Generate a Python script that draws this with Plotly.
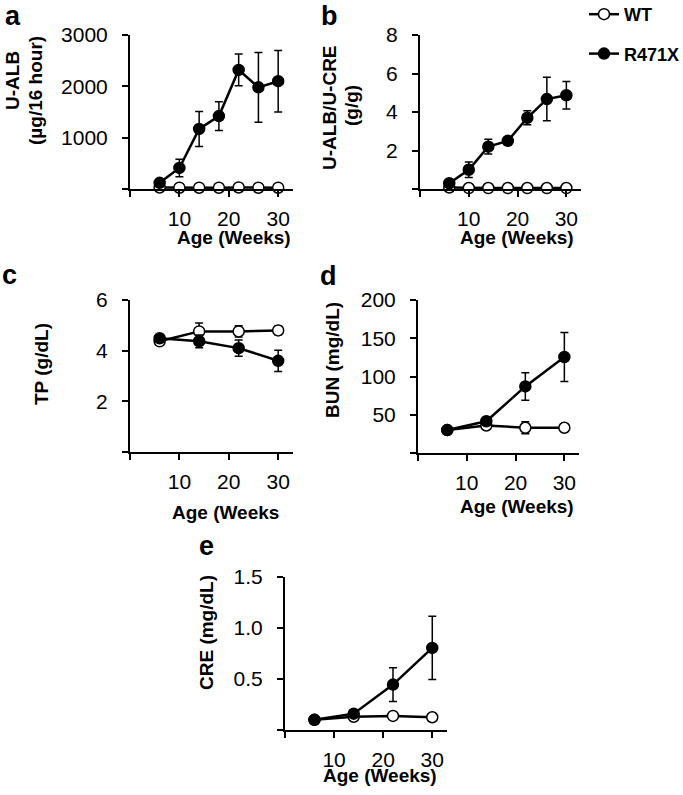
import plotly.graph_objects as go

W, H = 683, 795
FONT = "Arial, Liberation Sans, sans-serif"

# ---------------- data ----------------
weeks_ab = [6, 10, 14, 18, 22, 26, 30]
weeks_cde = [6, 14, 22, 30]

ualb_wt = [30, 25, 25, 25, 30, 25, 25]
ualb_wt_err = [10, 10, 10, 10, 10, 10, 10]
ualb_mut = [120, 410, 1170, 1420, 2320, 1980, 2100]
ualb_mut_err = [60, 170, 340, 280, 310, 680, 600]

ratio_wt = [0.08, 0.05, 0.05, 0.05, 0.05, 0.05, 0.05]
ratio_wt_err = [0.02, 0.02, 0.02, 0.02, 0.02, 0.02, 0.02]
ratio_mut = [0.3, 1.0, 2.2, 2.5, 3.7, 4.67, 4.87]
ratio_mut_err = [0.1, 0.4, 0.38, 0.22, 0.36, 1.13, 0.72]

tp_wt = [4.37, 4.76, 4.76, 4.80]
tp_wt_err = [0.08, 0.33, 0.22, 0.17]
tp_mut = [4.49, 4.37, 4.10, 3.60]
tp_mut_err = [0.10, 0.25, 0.32, 0.42]

bun_wt = [30, 36, 33, 33]
bun_wt_err = [2, 3, 8, 2]
bun_mut = [30, 41.5, 87, 125.5]
bun_mut_err = [2, 4, 18, 32]

cre_wt = [0.10, 0.13, 0.138, 0.125]
cre_wt_err = [0.01, 0.02, 0.01, 0.03]
cre_mut = [0.10, 0.16, 0.445, 0.805]
cre_mut_err = [0.01, 0.02, 0.165, 0.31]

series_names = ["WT", "R471X"]
x_ticks = [0, 10, 20, 30]
x_ticktext = ["", "10", "20", "30"]


def fx(px):
    return px / W


def fy(py):
    return 1 - py / H


# panel geometry in page pixels: (x0, x1), (ytop, ybottom)
panels = {
    "a": dict(px=(130, 293), py=(35, 189), yr=[0, 3000], yt=[0, 1000, 2000, 3000],
              ytt=["", "1000", "2000", "3000"], x=weeks_ab,
              wt=(ualb_wt, ualb_wt_err), mut=(ualb_mut, ualb_mut_err)),
    "b": dict(px=(420, 581), py=(35, 189), yr=[0, 8], yt=[0, 2, 4, 6, 8],
              ytt=["", "2", "4", "6", "8"], x=weeks_ab,
              wt=(ratio_wt, ratio_wt_err), mut=(ratio_mut, ratio_mut_err)),
    "c": dict(px=(130, 293), py=(300, 452), yr=[0, 6], yt=[0, 2, 4, 6],
              ytt=["", "2", "4", "6"], x=weeks_cde,
              wt=(tp_wt, tp_wt_err), mut=(tp_mut, tp_mut_err)),
    "d": dict(px=(418, 579), py=(300, 453), yr=[0, 200], yt=[0, 50, 100, 150, 200],
              ytt=["", "50", "100", "150", "200"], x=weeks_cde,
              wt=(bun_wt, bun_wt_err), mut=(bun_mut, bun_mut_err)),
    "e": dict(px=(285, 447), py=(577, 730), yr=[0, 1.5], yt=[0, 0.5, 1.0, 1.5],
              ytt=["", "0.5", "1.0", "1.5"], x=weeks_cde,
              wt=(cre_wt, cre_wt_err), mut=(cre_mut, cre_mut_err)),
}

fig = go.Figure()
layout = {}

for i, (key, p) in enumerate(panels.items()):
    n = "" if i == 0 else str(i + 1)
    xa, ya = "x" + n, "y" + n
    x0, x1 = p["px"]
    yt, yb = p["py"]
    common_axis = dict(showline=True, linecolor="black", linewidth=2,
                       ticks="outside", ticklen=6, tickwidth=2, tickcolor="black",
                       showgrid=False, zeroline=False, automargin=False,
                       tickfont=dict(family=FONT, size=21, color="black"))
    layout["xaxis" + n] = dict(domain=[fx(x0), fx(x1)], range=[0, 33], anchor=ya,
                               tickmode="array", tickvals=x_ticks, ticktext=x_ticktext,
                               ticklabelstandoff=4, **common_axis)
    layout["yaxis" + n] = dict(domain=[fy(yb), fy(yt)], range=p["yr"], anchor=xa,
                               tickmode="array", tickvals=p["yt"], ticktext=p["ytt"],
                               ticklabelstandoff=10, **common_axis)
    for name, (vals, errs), fill, lg in [(series_names[0], p["wt"], "white", "g1"),
                                         (series_names[1], p["mut"], "black", "g2")]:
        fig.add_trace(go.Scatter(
            x=p["x"], y=vals, name=name, mode="lines+markers",
            xaxis=xa, yaxis=ya, cliponaxis=False,
            line=dict(color="black", width=2.5),
            marker=dict(size=11, color=fill, line=dict(color="black", width=1.5)),
            error_y=dict(type="data", array=errs, visible=True, color="black",
                         thickness=1.5, width=4),
            showlegend=(i == 0), legendgroup=lg,
        ))

layout.update(dict(
    template="none",
    width=W, height=H, margin=dict(l=0, r=0, t=0, b=0, autoexpand=False),
    paper_bgcolor="white", plot_bgcolor="white",
    font=dict(family=FONT, color="black"),
    legend=dict(x=fx(584), y=1 + 4 / H, xanchor="left", yanchor="top",
                font=dict(family=FONT, size=18, color="black", weight="bold"),
                tracegroupgap=13, bgcolor="rgba(0,0,0,0)"),
))
fig.update_layout(**layout)


def ann(text, x, y, size=19, angle=0, bold=True):
    t = "<b>%s</b>" % text if bold else text
    fig.add_annotation(text=t, x=fx(x), y=fy(y), xref="paper", yref="paper",
                       showarrow=False, textangle=angle, xanchor="center", yanchor="middle",
                       font=dict(family=FONT, size=size, color="black"))


for letter, (lx, ly) in {"a": (13, 16), "b": (329, 16), "c": (9, 275),
                         "d": (328, 276), "e": (206, 546)}.items():
    ann(letter, lx, ly, size=27)

ann("U-ALB", 13, 81, angle=-90)
ann("(µg/16 hour)", 36, 91, angle=-90)
ann("U-ALB/U-CRE", 330, 108, angle=-90)
ann("(g/g)", 352, 106, angle=-90)
ann("TP (g/dL)", 41, 364, angle=-90)
ann("BUN (mg/dL)", 332, 360, angle=-90)
ann("CRE (mg/dL)", 206, 633, angle=-90)

ann("Age (Weeks)", 234, 238)
ann("Age (Weeks)", 517, 238)
ann("Age (Weeks", 225, 512)
ann("Age (Weeks)", 517, 506)
ann("Age (Weeks)", 380, 775)

fig.write_html("out.html", config={"displayModeBar": False},
               post_script="document.body.style.margin='0';")
